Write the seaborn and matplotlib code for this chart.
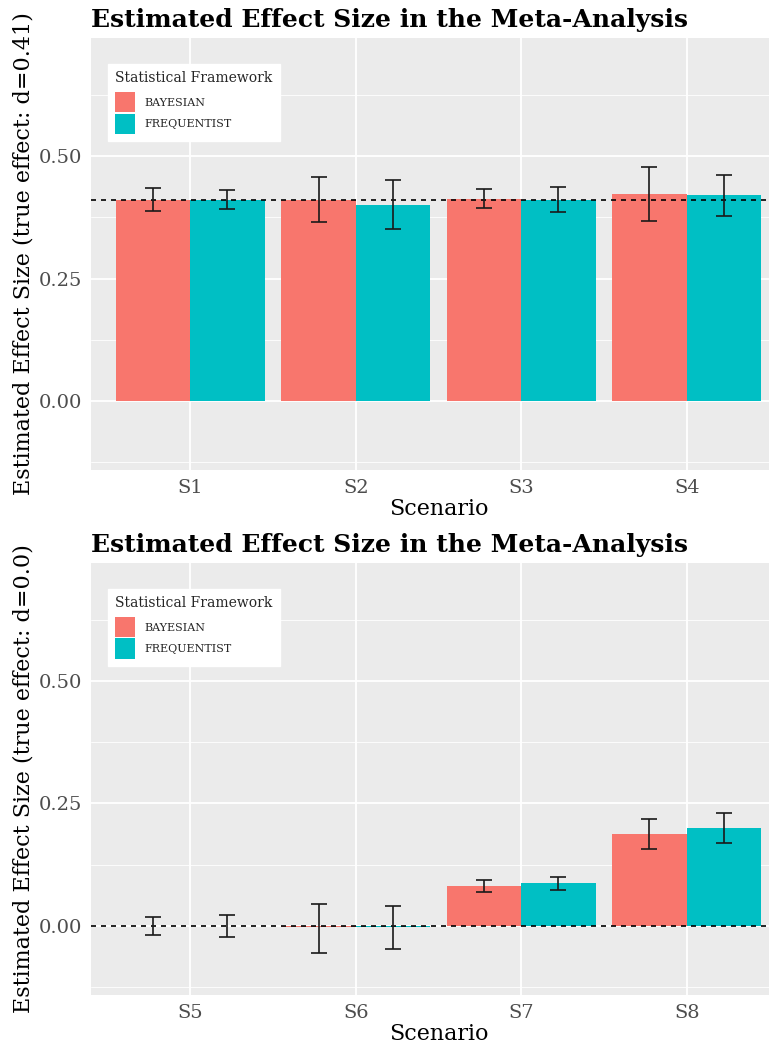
import pandas as pd
import numpy as np
import seaborn as sns
import matplotlib.pyplot as plt
from matplotlib.ticker import FixedLocator

# Values
frameworks = ['BAYESIAN', 'FREQUENTIST']
colors = ['#F8766D', '#00BFC4']

scen_top = ['S1', 'S2', 'S3', 'S4']
bayes_top = [0.410, 0.410, 0.412, 0.422]
bayes_top_lo = [0.387, 0.365, 0.393, 0.367]
bayes_top_hi = [0.435, 0.457, 0.433, 0.478]
freq_top = [0.410, 0.401, 0.410, 0.420]
freq_top_lo = [0.392, 0.351, 0.386, 0.378]
freq_top_hi = [0.430, 0.452, 0.437, 0.462]

scen_bot = ['S5', 'S6', 'S7', 'S8']
bayes_bot = [0.000, -0.003, 0.082, 0.188]
bayes_bot_lo = [-0.019, -0.055, 0.070, 0.158]
bayes_bot_hi = [0.019, 0.045, 0.094, 0.218]
freq_bot = [0.000, -0.003, 0.087, 0.199]
freq_bot_lo = [-0.023, -0.047, 0.074, 0.170]
freq_bot_hi = [0.022, 0.040, 0.100, 0.230]

true_effects = [0.41, 0.0]
ylabels = ['Estimated Effect Size (true effect: d=0.41)',
           'Estimated Effect Size (true effect: d=0.0)']
title = 'Estimated Effect Size in the Meta-Analysis'

sns.set_style('darkgrid')
plt.rcParams['font.family'] = ['DejaVu Serif']

fig = plt.figure(figsize=(7.69, 10.48), dpi=100)
ax_top = fig.add_axes([0.1183, 0.5515, 0.9038, 0.4122])
ax_bot = fig.add_axes([0.1183, 0.0506, 0.9038, 0.4122])

panels = [
    (ax_top, scen_top, bayes_top, bayes_top_lo, bayes_top_hi, freq_top, freq_top_lo, freq_top_hi),
    (ax_bot, scen_bot, bayes_bot, bayes_bot_lo, bayes_bot_hi, freq_bot, freq_bot_lo, freq_bot_hi),
]

for k, (ax, scen, b, blo, bhi, f, flo, fhi) in enumerate(panels):
    df = pd.DataFrame({
        'Scenario': scen + scen,
        'Framework': [frameworks[0]] * len(scen) + [frameworks[1]] * len(scen),
        'Estimate': b + f,
        'lo': blo + flo,
        'hi': bhi + fhi,
    })
    sns.barplot(data=df, x='Scenario', y='Estimate', hue='Framework',
                hue_order=frameworks, palette=colors, width=0.9, gap=0,
                errorbar=None, saturation=1, linewidth=0, ax=ax, zorder=2)

    ax.axhline(true_effects[k], color='black', linestyle=(0, (3, 3)),
               linewidth=1.2, zorder=3)

    # error bars centred on each dodged bar
    for j, fw in enumerate(frameworks):
        sub = df[df['Framework'] == fw]
        xpos = np.arange(len(scen)) + (j - 0.5) * 0.45
        est = sub['Estimate'].values
        yerr = [est - sub['lo'].values, sub['hi'].values - est]
        ax.errorbar(xpos, est, yerr=yerr, fmt='none', ecolor='#1a1a1a',
                    elinewidth=1.2, capsize=5.8, capthick=1.2, zorder=4)

    ax.set_facecolor('#EBEBEB')
    ax.set_xlim(-0.6, 3.6)
    ax.set_ylim(-0.141, 0.741)
    ax.set_yticks([0.0, 0.25, 0.5])
    ax.set_yticklabels(['0.00', '0.25', '0.50'])
    ax.yaxis.set_minor_locator(FixedLocator([-0.125, 0.125, 0.375, 0.625]))
    ax.grid(which='major', color='white', linewidth=1.3, zorder=0)
    ax.grid(which='minor', axis='y', color='white', linewidth=0.6, zorder=0)
    ax.set_axisbelow(True)
    for s in ax.spines.values():
        s.set_visible(False)
    ax.tick_params(axis='both', which='major', length=3.5, width=0.8,
                   color='#333333', labelcolor='#4D4D4D', labelsize=14, pad=3)
    ax.tick_params(axis='y', which='minor', length=0)

    ax.set_xlabel('Scenario', fontsize=16, color='black', labelpad=1)
    ax.set_ylabel(ylabels[k], fontsize=16, color='black', labelpad=3)
    ax.set_title(title, loc='left', fontsize=18, fontweight='bold',
                 color='black', pad=8)

    leg = ax.legend(title='Statistical Framework', loc='upper left',
                    bbox_to_anchor=(0.0246, 0.94), borderaxespad=0,
                    frameon=True, fancybox=False, fontsize=8,
                    title_fontsize=10, handlelength=1.8, handleheight=2.4,
                    handletextpad=0.8, labelspacing=0.12, borderpad=0.65)
    leg.get_frame().set_facecolor('white')
    leg.get_frame().set_edgecolor('white')
    leg.get_frame().set_alpha(1)
    leg._legend_box.align = 'left'
    leg._legend_box.sep = 5

fig.savefig('out.png', dpi=100)
